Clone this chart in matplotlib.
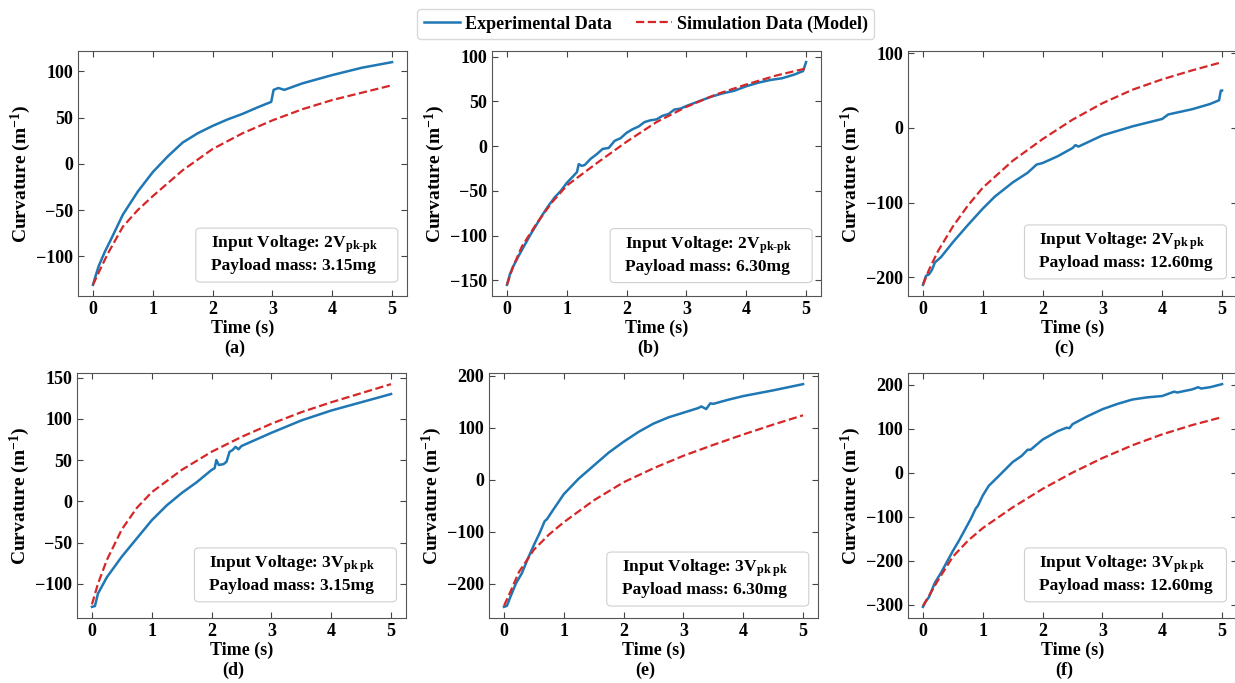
import matplotlib
matplotlib.use("Agg")
import matplotlib.pyplot as plt
from matplotlib.patches import FancyBboxPatch

plt.rcParams['font.family'] = ['Liberation Serif', 'DejaVu Serif']
plt.rcParams['font.weight'] = 'bold'
plt.rcParams['mathtext.fontset'] = 'custom'
plt.rcParams['mathtext.rm'] = 'Liberation Serif:bold'
plt.rcParams['mathtext.it'] = 'Liberation Serif:bold'
plt.rcParams['mathtext.bf'] = 'Liberation Serif:bold'
plt.rcParams['mathtext.default'] = 'rm'

# ---- data ----
# (a) 2Vpk-pk, 3.15mg
t_sim = [0, 0.1, 0.25, 0.5, 0.75, 1, 1.5, 2, 2.5, 3, 3.5, 4, 4.5, 5]
sim_a = [-131, -117, -97, -68, -50, -35, -7, 16, 33, 47, 59, 69, 77, 85]
t_exp_a = [0, 0.05, 0.1, 0.2, 0.3, 0.5, 0.75, 1, 1.25, 1.5, 1.75, 2, 2.25, 2.5, 2.75,
           2.98, 3.02, 3.1, 3.2, 3.5, 4, 4.5, 5]
exp_a = [-131, -120, -110, -95, -82, -55, -30, -9, 8, 23, 33, 41, 48, 54, 61,
         67, 80, 82, 80, 87, 96, 104, 110]

# (b) 2Vpk-pk, 6.30mg
sim_b = [-155, -135, -112, -86, -63, -44, -19, 5, 27, 44, 58, 69, 79, 87]
t_exp_b = [0, 0.05, 0.1, 0.2, 0.3, 0.4, 0.5, 0.6, 0.7, 0.8, 0.9, 1.0, 1.1, 1.17, 1.2,
           1.25, 1.3, 1.4, 1.5, 1.6, 1.7, 1.8, 1.9, 2.0, 2.1, 2.2, 2.3, 2.4, 2.5, 2.6,
           2.7, 2.8, 2.9, 3.0, 3.2, 3.4, 3.6, 3.8, 4.0, 4.2, 4.4, 4.6, 4.8, 4.95, 5.0]
exp_b = [-155, -143, -135, -122, -110, -98, -87, -76, -66, -57, -50, -41, -34, -29, -20,
         -22, -21, -14, -9, -3, -2, 6, 9, 15, 19, 22, 27, 29, 30, 34,
         36, 41, 42, 45, 50, 55, 59, 62, 67, 71, 74, 76, 80, 84, 94]

# (c) 2Vpk-pk, 12.60mg
sim_c = [-210, -190, -165, -132, -104, -80, -44, -15, 11, 33, 51, 65, 77, 88]
t_exp_c = [0, 0.05, 0.1, 0.15, 0.2, 0.3, 0.5, 0.75, 1, 1.2, 1.5, 1.75, 1.9, 2.0, 2.25,
           2.5, 2.55, 2.6, 3.0, 3.5, 4.0, 4.1, 4.5, 4.8, 4.95, 4.98, 5.0]
exp_c = [-210, -198, -196, -190, -180, -173, -153, -130, -108, -92, -73, -60, -49, -47, -38,
         -27, -23, -25, -10, 2, 12, 18, 25, 32, 37, 50, 50]

# (d) 3Vpk-pk, 3.15mg
sim_d = [-125, -100, -71, -34, -8, 11, 38, 60, 78, 94, 108, 120, 131, 142]
t_exp_d = [0, 0.05, 0.1, 0.25, 0.5, 0.75, 1, 1.25, 1.5, 1.75, 2.0, 2.05, 2.08, 2.12,
           2.2, 2.25, 2.3, 2.35, 2.4, 2.45, 2.5, 3.0, 3.5, 4.0, 4.5, 5.0]
exp_d = [-128, -127, -112, -92, -67, -45, -23, -5, 10, 23, 38, 40, 50, 44,
         45, 48, 60, 62, 66, 63, 67, 83, 98, 110, 120, 130]

# (e) 3Vpk-pk, 6.30mg
sim_e = [-243, -218, -178, -135, -106, -82, -40, -5, 22, 46, 67, 87, 106, 124]
t_exp_e = [0, 0.05, 0.1, 0.2, 0.3, 0.4, 0.5, 0.6, 0.68, 0.72, 0.8, 1.0, 1.25, 1.5, 1.75,
           2.0, 2.25, 2.5, 2.75, 3.0, 3.25, 3.3, 3.38, 3.45, 3.5, 3.75, 4.0, 4.5, 5.0]
exp_e = [-245, -243, -228, -200, -180, -152, -126, -102, -80, -76, -62, -28, 2, 27, 52,
         73, 92, 108, 120, 129, 138, 141, 136, 147, 146, 154, 161, 172, 184]

# (f) 3Vpk-pk, 12.60mg
sim_f = [-303, -280, -245, -191, -155, -126, -79, -37, 0, 33, 62, 87, 108, 126]
t_exp_f = [0, 0.05, 0.1, 0.2, 0.3, 0.4, 0.5, 0.6, 0.7, 0.8, 0.88, 0.92, 1.0, 1.1, 1.25,
           1.5, 1.65, 1.75, 1.8, 2.0, 2.25, 2.4, 2.45, 2.5, 2.75, 3.0, 3.25, 3.5, 3.75,
           4.0, 4.2, 4.25, 4.5, 4.6, 4.65, 4.8, 5.0]
exp_f = [-305, -292, -283, -250, -228, -203, -178, -155, -130, -105, -82, -75, -52, -30, -10,
         24, 38, 52, 52, 75, 94, 102, 101, 110, 128, 144, 156, 166, 171,
         174, 184, 182, 189, 194, 191, 194, 201]

voltages = ['2', '2', '2', '3', '3', '3']
subs = ['pk-pk', 'pk-pk', 'pk pk', 'pk pk', 'pk pk', 'pk pk']
masses = ['3.15mg', '6.30mg', '12.60mg', '3.15mg', '6.30mg', '12.60mg']
panel_labels = ['(a)', '(b)', '(c)', '(d)', '(e)', '(f)']
yticks = [[-100, -50, 0, 50, 100],
          [-150, -100, -50, 0, 50, 100],
          [-200, -100, 0, 100],
          [-100, -50, 0, 50, 100, 150],
          [-200, -100, 0, 100, 200],
          [-300, -200, -100, 0, 100, 200]]

exp_t = [t_exp_a, t_exp_b, t_exp_c, t_exp_d, t_exp_e, t_exp_f]
exp_y = [exp_a, exp_b, exp_c, exp_d, exp_e, exp_f]
sim_y = [sim_a, sim_b, sim_c, sim_d, sim_e, sim_f]

# axes placement in pixels (left, top) on a 1235x683 canvas
W, H = 1235, 683
lefts = [78, 492, 908, 77, 489, 908]
tops = [51, 51, 51, 373, 373, 373]
box_xy = [(0.665, 0.167), (0.666, 0.165), (0.661, 0.18),
          (0.664, 0.176), (0.665, 0.159), (0.661, 0.176)]
aw, ah = 329, 245
bw, bh = 202 / aw, 54 / ah

fig = plt.figure(figsize=(12.35, 6.83), dpi=100)

for i in range(6):
    ax = fig.add_axes([lefts[i] / W, 1 - (tops[i] + ah) / H, aw / W, ah / H])
    l1, = ax.plot(exp_t[i], exp_y[i], color='#1f77b4', lw=1.8, label='Experimental Data')
    l2, = ax.plot(t_sim, sim_y[i], color='#d62728', lw=1.6, ls='--',
                  label='Simulation Data (Model)')
    ax.set_xticks([0, 1, 2, 3, 4, 5])
    ax.set_yticks(yticks[i])
    ax.tick_params(direction='in', top=True, right=True, labelsize=13, length=4,
                   color='#444444')
    for s in ax.spines.values():
        s.set_color('#555555')
    ax.set_xlabel('Time (s)', fontsize=13, fontweight='bold', labelpad=1)
    ax.set_ylabel('Curvature (m$^{\\mathbf{-1}}$)', fontsize=14, fontweight='bold',
                  labelpad=2)

    # info box
    cx, cy = box_xy[i]
    ax.add_patch(FancyBboxPatch((cx - bw / 2, cy - bh / 2), bw, bh,
                                boxstyle='round,pad=0,rounding_size=0.015',
                                transform=ax.transAxes, facecolor='white',
                                edgecolor='#d0d0d0', lw=0.8, zorder=5))
    txt = ('Input Voltage: ' + voltages[i] + 'V$_{\\text{' + subs[i] + '}}$\n'
           'Payload mass: ' + masses[i])
    ax.text(cx - bw / 2 + 15 / aw, cy + 0.005, txt, transform=ax.transAxes, ha='left',
            va='center', multialignment='left', fontsize=12.5, fontweight='bold',
            linespacing=1.25, zorder=6)

    lab_y = (tops[i] + ah + 52) / H
    fig.text((lefts[i] + aw / 2 - 8) / W, 1 - lab_y, panel_labels[i], ha='center',
             va='center', fontsize=13, fontweight='bold')

fig.legend([l1, l2], ['Experimental Data', 'Simulation Data (Model)'], loc='upper center',
           bbox_to_anchor=(0.523, 1.0), ncol=2, fontsize=13, frameon=True,
           edgecolor='#d0d0d0', handlelength=2.0, handletextpad=0.3,
           columnspacing=1.3, borderpad=0.35)

fig.savefig('out.png', dpi=100)
